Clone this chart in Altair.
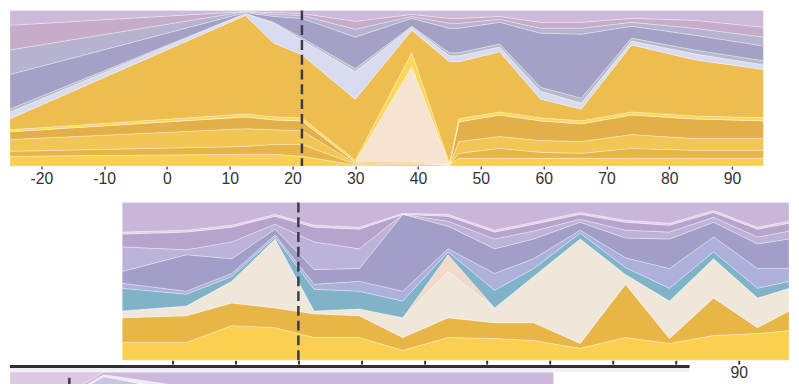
import altair as alt
import pandas as pd

# ---------------- Panel 1 (top) ----------------
p1_x = [-25, 12.5, 17, 21.5, 30, 39, 45, 46.5, 53, 59.5, 66, 74, 84, 95]
p1_names = ["s1", "s2", "s3", "s4", "s5", "s6", "s7", "s8", "s9", "s10", "s11", "s12", "s13"]
p1_colors = ["#f7cf55", "#e7b447", "#f2c654", "#e2af49", "#f6e3d2", "#fbd657", "#eebd4f",
             "#d9dbf0", "#b7bac8", "#a3a2c6", "#b5b3cf", "#c6acc9", "#cdb9da"]
p1_s1 = [10, 12, 12, 10, 1, 2, 1, 8, 8, 8, 8, 8, 8, 8]
p1_s2 = [5, 8, 10, 12, 1, 1, 0, 5, 10, 6, 5, 10, 8, 8]
p1_s3 = [12, 18, 15, 14, 1, 1, 0, 12, 12, 12, 12, 14, 12, 12]
p1_s4 = [8, 12, 10, 10, 1, 1, 0, 20, 22, 20, 18, 20, 20, 18]
p1_s5 = [0, 0, 0, 0, 0, 96, 0, 0, 0, 0, 0, 0, 0, 0]
p1_s6 = [2, 3, 3, 3, 2, 14, 2, 3, 3, 3, 3, 3, 3, 3]
p1_s7 = [11, 100, 75, 64, 62, 23, 103, 58, 61, 19, 12, 68, 57, 49]
p1_s8 = [7, 2, 20, 15, 28, 3, 6, 6, 5, 8, 6, 4, 6, 5]
p1_s9 = [3, 0, 1, 2, 3, 1, 3, 3, 3, 4, 5, 3, 4, 4]
p1_s10 = [35, 1, 6, 20, 32, 8, 25, 25, 22, 55, 65, 12, 15, 15]
p1_s11 = [25, 1, 2, 3, 8, 2, 5, 5, 3, 5, 6, 4, 7, 9]
p1_s12 = [25, 0, 2, 2, 8, 2, 5, 5, 3, 6, 6, 4, 8, 10]
p1_s13 = [15, 1, 2, 3, 11, 4, 8, 8, 6, 12, 12, 8, 10, 17]
p1_vals = [p1_s1, p1_s2, p1_s3, p1_s4, p1_s5, p1_s6, p1_s7, p1_s8, p1_s9, p1_s10,
           p1_s11, p1_s12, p1_s13]
p1_ticks = [-20, -10, 0, 10, 20, 30, 40, 50, 60, 70, 80, 90]
p1_marker = [21.5]

# ---------------- Panel 2 (middle) ----------------
p2_x = [-8, 2.2, 9.4, 16.3, 22.5, 29.7, 36.6, 43.8, 51.2, 57.4, 64.8, 72, 79, 86, 93, 98]
p2_names = ["yellow", "gold", "cream", "peach", "teal", "lavblue", "slate", "lavender",
            "mauve", "pink", "purple"]
p2_colors = ["#f9d04f", "#e8b647", "#efe7da", "#f2dacb", "#80b3c8", "#adb0da", "#a19fc7",
             "#bdb2d8", "#b7a4cd", "#e2cfe9", "#c9b6d9"]
p2_yellow = [18, 18, 35, 33, 23, 23, 10, 23, 22, 20, 12, 23, 17, 25, 27, 30]
p2_gold = [25, 27, 23, 20, 24, 22, 13, 20, 16, 18, 5, 54, 5, 38, 6, 20]
p2_cream = [7, 10, 22, 70, 3, 7, 20, 47, 15, 47, 106, 10, 38, 40, 30, 23]
p2_peach = [0, 0, 0, 0, 0, 0, 0, 17, 0, 0, 0, 0, 0, 0, 0, 0]
p2_teal = [23, 12, 5, 2, 22, 18, 17, 3, 18, 8, 6, 7, 13, 7, 10, 7]
p2_lavblue = [5, 3, 3, 2, 5, 10, 10, 3, 17, 10, 3, 10, 20, 15, 20, 13]
p2_slate = [12, 37, 15, 6, 15, 13, 78, 23, 25, 20, 8, 20, 30, 15, 25, 30]
p2_lavender = [25, 5, 17, 5, 28, 20, 0, 5, 10, 8, 3, 8, 7, 5, 7, 8]
p2_mauve = [13, 18, 15, 8, 15, 20, 0, 5, 7, 7, 5, 8, 7, 5, 8, 8]
p2_pink = [2, 2, 2, 2, 2, 2, 1, 2, 2, 2, 2, 2, 2, 2, 2, 2]
p2_purple = [30, 28, 23, 12, 23, 25, 11, 12, 28, 20, 10, 18, 21, 8, 25, 19]
p2_vals = [p2_yellow, p2_gold, p2_cream, p2_peach, p2_teal, p2_lavblue, p2_slate,
           p2_lavender, p2_mauve, p2_pink, p2_purple]
p2_ticks = [0, 10, 20, 30, 40, 50, 60, 70, 80, 90]
p2_marker = [20]

# ---------------- Panel 3 (bottom, partly visible) ----------------
p3_x = [-25, -15, -10, 2, 20, 40, 62]
p3_names = ["base", "white", "purple", "pink"]
p3_colors = ["#c6c5e2", "#eeeaf6", "#cbb8da", "#dac9e0"]
p3_base = [68, 75, 95, 79, 68, 68, 68]
p3_white = [2, 2, 2, 6, 2, 2, 2]
p3_purple = [5, 3, 3, 15, 30, 30, 30]
p3_pink = [25, 20, 0, 0, 0, 0, 0]
p3_vals = [p3_base, p3_white, p3_purple, p3_pink]
p3_marker = [-15.5]


def long_table(xs, names, colors, vals):
    rows = []
    for k, (n, c, v) in enumerate(zip(names, colors, vals)):
        for x, val in zip(xs, v):
            rows.append({"x": x, "s": n, "c": c, "k": k, "v": val})
    return pd.DataFrame(rows)


df1 = long_table(p1_x, p1_names, p1_colors, p1_vals)
df2 = long_table(p2_x, p2_names, p2_colors, p2_vals)
df3 = long_table(p3_x, p3_names, p3_colors, p3_vals)

FONT = "Liberation Sans"
DASH = dict(strokeDash=[10, 5], strokeWidth=2.5, color="#3a3a48")
AREA = dict(interpolate="linear", stroke="white", strokeWidth=0.7, strokeOpacity=0.45)

# Row 1
area1 = alt.Chart(df1).mark_area(**AREA).encode(
    x=alt.X("x:Q", scale=alt.Scale(domain=[-25, 95], nice=False, zero=False),
            axis=alt.Axis(values=p1_ticks, title=None, grid=False, domain=False,
                          tickSize=3, tickColor="#555", tickWidth=1.5, labelPadding=2,
                          labelFontSize=16, labelColor="#333333", labelFont=FONT,
                          labelFlush=False, labelExpr="'' + datum.value")),
    y=alt.Y("v:Q", stack="normalize", axis=None),
    color=alt.Color("c:N", scale=None),
    detail="s:N",
    order=alt.Order("k:Q"),
)
rule1 = alt.Chart(pd.DataFrame({"x": p1_marker})).mark_rule(**DASH).encode(x="x:Q")
row1 = alt.layer(area1, rule1).properties(width=765, height=158)

# Row 2
H2 = 192
area2 = alt.Chart(df2).mark_area(**AREA).encode(
    x=alt.X("x:Q", scale=alt.Scale(domain=[-8, 98], range=[114, 791], nice=False, zero=False),
            axis=alt.Axis(values=p2_ticks, title=None, grid=False, domain=False,
                          tickSize=4, tickColor="#333", tickWidth=2, labelPadding=1,
                          labelFontSize=16, labelColor="#333333", labelFont=FONT,
                          labelFlush=False,
                          labelExpr="datum.value == 90 ? '90' : ''")),
    y=alt.Y("v:Q", stack="normalize", axis=None, scale=alt.Scale(range=[H2, 32])),
    color=alt.Color("c:N", scale=None),
    detail="s:N",
    order=alt.Order("k:Q"),
)
rule2 = alt.Chart(pd.DataFrame({"x": p2_marker})).mark_rule(**DASH).encode(
    x="x:Q", y=alt.value(32), y2=alt.value(H2))
row2 = alt.layer(area2, rule2).properties(width=791, height=H2)

# Row 3
H3 = 100
strip3 = alt.Chart(pd.DataFrame({"x": p3_marker})).mark_rect(color="#f1eff6").encode(
    x=alt.value(0), x2=alt.value(690), y=alt.value(3), y2=alt.value(7))
area3 = alt.Chart(df3).mark_area(**AREA).encode(
    x=alt.X("x:Q", scale=alt.Scale(domain=[-25, 62], range=[0, 552], nice=False, zero=False),
            axis=None),
    y=alt.Y("v:Q", stack="normalize", axis=None, scale=alt.Scale(range=[H3, 7])),
    color=alt.Color("c:N", scale=None),
    detail="s:N",
    order=alt.Order("k:Q"),
)
rule3 = alt.Chart(pd.DataFrame({"x": p3_marker})).mark_rule(**DASH).encode(
    x="x:Q", y=alt.value(13), y2=alt.value(H3))
frame3 = alt.Chart(pd.DataFrame({"x": p3_marker})).mark_rule(
    color="#2f2f2f", strokeWidth=3).encode(x=alt.value(0), x2=alt.value(690), y=alt.value(1.5))
row3 = alt.layer(strip3, area3, rule3, frame3).properties(width=690, height=H3)

chart = alt.vconcat(row1, row2, row3, spacing=5, bounds="flush").properties(
    padding={"left": 0, "top": -3, "right": 0, "bottom": 0},
    background="white",
).configure_view(stroke=None)

chart.save("out.html", embed_options={"renderer": "svg", "actions": False})
